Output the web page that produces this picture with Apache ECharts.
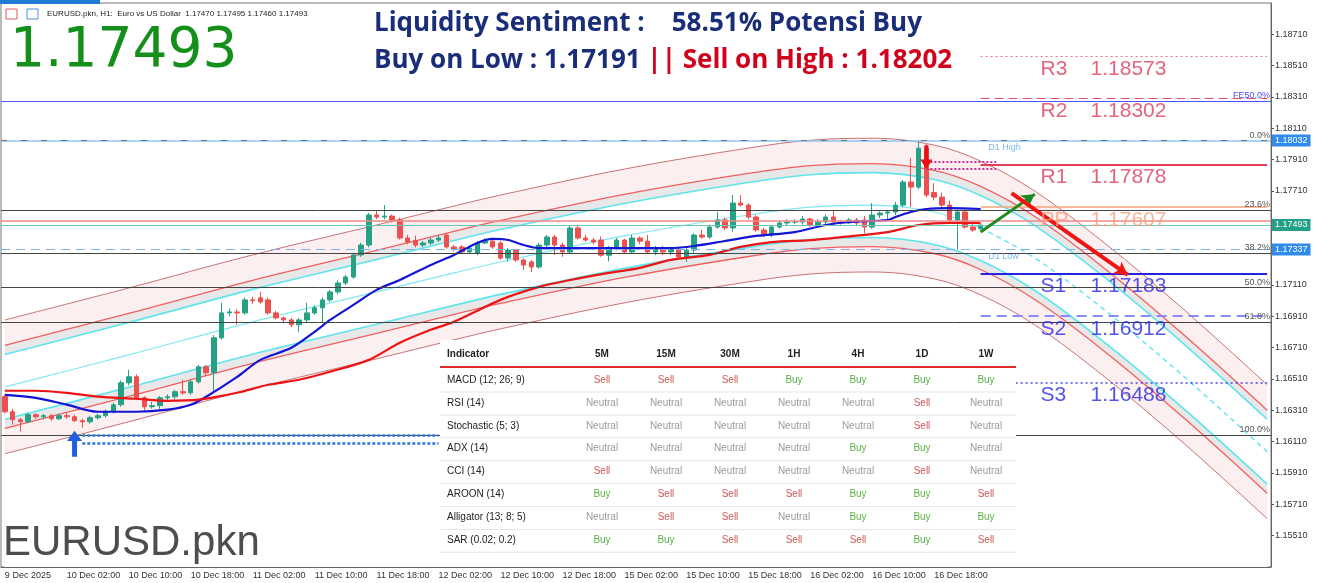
<!DOCTYPE html>
<html>
<head>
<meta charset="utf-8">
<title>EURUSD.pkn H1</title>
<script src="https://cdn.jsdelivr.net/npm/echarts@6/dist/echarts.min.js"></script>
<style>
  html, body { margin: 0; padding: 0; background: #fff; }
  #chart { width: 1319px; height: 583px; }
</style>
</head>
<body>
<div id="chart"></div>
<script>
// ---- axis labels ----
const xTickLabels = ['9 Dec 2025', '10 Dec 02:00', '10 Dec 10:00', '10 Dec 18:00', '11 Dec 02:00', '11 Dec 10:00',
  '11 Dec 18:00', '12 Dec 02:00', '12 Dec 10:00', '12 Dec 18:00', '15 Dec 02:00', '15 Dec 10:00',
  '15 Dec 18:00', '16 Dec 02:00', '16 Dec 10:00', '16 Dec 18:00'];
const yTicks = [1.15510, 1.15710, 1.15910, 1.16110, 1.16310, 1.16510, 1.16710, 1.16910, 1.17110,
  1.17710, 1.17910, 1.18110, 1.18310, 1.18510, 1.18710];
const slotCount = 164; // 127 candles + empty space on the right

// ---- H1 candles ----
const opens = [1.16397,1.16301,1.16250,1.16237,1.16282,1.16269,1.16276,1.16256,1.16276,1.16269,
  1.16244,1.16237,1.16263,1.16276,1.16301,1.16346,1.16486,1.16524,1.16390,1.16333,
  1.16340,1.16390,1.16397,1.16429,1.16422,1.16492,1.16588,1.16550,1.16773,1.16932,
  1.16938,1.16932,1.17015,1.17028,1.17015,1.16932,1.16900,1.16887,1.16856,1.16887,
  1.16932,1.16964,1.17015,1.17066,1.17123,1.17161,1.17302,1.17365,1.17557,1.17544,
  1.17550,1.17525,1.17410,1.17395,1.17365,1.17378,1.17397,1.17429,1.17353,1.17353,
  1.17321,1.17314,1.17378,1.17390,1.17378,1.17282,1.17333,1.17270,1.17257,1.17225,
  1.17365,1.17416,1.17365,1.17321,1.17474,1.17410,1.17397,1.17397,1.17300,1.17346,
  1.17397,1.17321,1.17410,1.17390,1.17321,1.17346,1.17321,1.17340,1.17289,1.17333,
  1.17429,1.17416,1.17480,1.17525,1.17474,1.17633,1.17620,1.17544,1.17461,1.17429,
  1.17480,1.17506,1.17512,1.17512,1.17531,1.17493,1.17512,1.17544,1.17512,1.17506,
  1.17525,1.17525,1.17480,1.17557,1.17569,1.17576,1.17620,1.17767,1.17735,1.17983,
  1.17700,1.17671,1.17620,1.17525,1.17576,1.17480,1.17470];
const closes = [1.16301,1.16250,1.16237,1.16282,1.16269,1.16276,1.16256,1.16276,1.16269,1.16244,
  1.16237,1.16263,1.16276,1.16301,1.16346,1.16486,1.16524,1.16390,1.16333,1.16340,
  1.16390,1.16397,1.16429,1.16422,1.16492,1.16588,1.16550,1.16773,1.16932,1.16938,
  1.16932,1.17015,1.17010,1.17002,1.16932,1.16900,1.16887,1.16856,1.16887,1.16932,
  1.16964,1.17015,1.17066,1.17123,1.17161,1.17302,1.17365,1.17557,1.17544,1.17550,
  1.17525,1.17410,1.17384,1.17365,1.17378,1.17397,1.17410,1.17353,1.17340,1.17321,
  1.17346,1.17378,1.17390,1.17353,1.17282,1.17333,1.17270,1.17238,1.17225,1.17365,
  1.17416,1.17365,1.17321,1.17474,1.17410,1.17397,1.17384,1.17300,1.17346,1.17397,
  1.17321,1.17410,1.17390,1.17321,1.17346,1.17321,1.17340,1.17289,1.17333,1.17429,
  1.17416,1.17480,1.17525,1.17474,1.17633,1.17620,1.17544,1.17461,1.17429,1.17480,
  1.17506,1.17512,1.17512,1.17531,1.17493,1.17512,1.17544,1.17512,1.17506,1.17525,
  1.17506,1.17480,1.17557,1.17569,1.17576,1.17620,1.17767,1.17735,1.17983,1.17684,
  1.17671,1.17620,1.17525,1.17576,1.17480,1.17461,1.17493];
const highs = [1.16410,1.16320,1.16262,1.16295,1.16292,1.16288,1.16286,1.16290,1.16295,1.16282,
  1.16256,1.16276,1.16290,1.16315,1.16360,1.16500,1.16569,1.16540,1.16400,1.16365,
  1.16402,1.16412,1.16441,1.16505,1.16505,1.16600,1.16600,1.16790,1.16996,1.16960,
  1.16955,1.17030,1.17035,1.17066,1.17030,1.16945,1.16910,1.16900,1.16900,1.16996,
  1.16980,1.17030,1.17080,1.17140,1.17175,1.17315,1.17380,1.17570,1.17588,1.17620,
  1.17560,1.17540,1.17430,1.17425,1.17390,1.17410,1.17430,1.17440,1.17365,1.17365,
  1.17360,1.17390,1.17410,1.17400,1.17390,1.17345,1.17340,1.17280,1.17270,1.17380,
  1.17430,1.17430,1.17380,1.17490,1.17495,1.17430,1.17410,1.17420,1.17360,1.17410,
  1.17405,1.17430,1.17420,1.17430,1.17360,1.17360,1.17355,1.17350,1.17345,1.17440,
  1.17461,1.17495,1.17576,1.17540,1.17684,1.17684,1.17633,1.17557,1.17474,1.17493,
  1.17520,1.17530,1.17530,1.17550,1.17540,1.17530,1.17560,1.17588,1.17525,1.17537,
  1.17537,1.17550,1.17633,1.17580,1.17590,1.17640,1.17780,1.17920,1.18032,1.18010,
  1.17760,1.17700,1.17650,1.17590,1.17590,1.17495,1.17495];
const lows = [1.16290,1.16218,1.16174,1.16228,1.16256,1.16252,1.16244,1.16248,1.16256,1.16237,
  1.16200,1.16225,1.16250,1.16263,1.16290,1.16333,1.16470,1.16378,1.16301,1.16320,
  1.16320,1.16365,1.16378,1.16409,1.16409,1.16480,1.16530,1.16429,1.16760,1.16910,
  1.16856,1.16920,1.16990,1.16990,1.16920,1.16890,1.16870,1.16840,1.16811,1.16870,
  1.16920,1.16868,1.17000,1.17050,1.17110,1.17150,1.17290,1.17350,1.17530,1.17530,
  1.17510,1.17400,1.17370,1.17350,1.17350,1.17365,1.17385,1.17340,1.17325,1.17310,
  1.17310,1.17300,1.17370,1.17340,1.17270,1.17260,1.17257,1.17206,1.17193,1.17215,
  1.17350,1.17302,1.17290,1.17310,1.17400,1.17385,1.17370,1.17290,1.17260,1.17330,
  1.17310,1.17310,1.17370,1.17310,1.17300,1.17300,1.17300,1.17275,1.17257,1.17310,
  1.17405,1.17405,1.17470,1.17461,1.17450,1.17610,1.17530,1.17450,1.17416,1.17416,
  1.17470,1.17490,1.17500,1.17495,1.17480,1.17480,1.17495,1.17500,1.17495,1.17500,
  1.17490,1.17440,1.17470,1.17537,1.17525,1.17557,1.17607,1.17607,1.17720,1.17670,
  1.17650,1.17600,1.17510,1.17337,1.17470,1.17450,1.17460];

// ---- moving averages, read at [bar, price] ----
const blueMA = [[0,1.16409],[4,1.16390],[8,1.16346],[12,1.16301],[17,1.16301],[21,1.16314],[24,1.16346],
  [26,1.16397],[30,1.16524],[33,1.16632],[37,1.16709],[40,1.16811],[42,1.16887],[45,1.16983],[48,1.17079],
  [51,1.17142],[55,1.17238],[58,1.17302],[61,1.17378],[63,1.17404],[65,1.17397],[67,1.17365],[69,1.17346],
  [73,1.17346],[78,1.17346],[82,1.17346],[86,1.17346],[89,1.17359],[93,1.17391],[97,1.17423],[102,1.17448],
  [106,1.17493],[109,1.17512],[114,1.17525],[115,1.17544],[117,1.17576],[119,1.17595],[122,1.17601],[126,1.17595]];
const redMA = [[0,1.16435],[4,1.16435],[8,1.16422],[12,1.16397],[17,1.16384],[21,1.16371],[25,1.16378],
  [30,1.16422],[34,1.16473],[38,1.16505],[42,1.16556],[47,1.16632],[51,1.16741],[55,1.16824],[58,1.16875],
  [64,1.17015],[69,1.17098],[73,1.17142],[78,1.17187],[82,1.17219],[86,1.17270],[91,1.17302],[95,1.17353],
  [99,1.17384],[104,1.17397],[108,1.17416],[114,1.17448],[118,1.17493],[122,1.17506],[126,1.17506]];

// ---- curved regression channel, read at these bars ----
const bandIdx = [0, 16, 32, 48, 58, 64, 80, 96, 104, 112, 120, 126, 133, 142, 152, 163];
const chCenter = [1.16460,1.16664,1.16875,1.17066,1.17187,1.17257,1.17423,1.17557,1.17607,1.17620,1.17576,1.17474,1.17282,1.16951,1.16537,1.16046];
const chUpCyan = [1.16667,1.16871,1.17082,1.17273,1.17394,1.17464,1.17630,1.17764,1.17814,1.17827,1.17783,1.17681,1.17489,1.17158,1.16744,1.16253];
const chUpRed  = [1.16725,1.16929,1.17140,1.17331,1.17452,1.17522,1.17688,1.17822,1.17872,1.17885,1.17841,1.17739,1.17547,1.17216,1.16802,1.16311];
const chUpOut  = [1.16887,1.17091,1.17302,1.17493,1.17614,1.17684,1.17850,1.17984,1.18034,1.18047,1.18003,1.17901,1.17709,1.17378,1.16964,1.16473];
const chLoCyan = [1.16253,1.16457,1.16668,1.16859,1.16980,1.17050,1.17216,1.17350,1.17400,1.17413,1.17369,1.17267,1.17075,1.16744,1.16330,1.15839];
const chLoRed  = [1.16195,1.16399,1.16610,1.16801,1.16922,1.16992,1.17158,1.17292,1.17342,1.17355,1.17311,1.17209,1.17017,1.16686,1.16272,1.15781];
const chLoOut  = [1.16033,1.16237,1.16448,1.16639,1.16760,1.16830,1.16996,1.17130,1.17180,1.17193,1.17149,1.17047,1.16855,1.16524,1.16110,1.15619];

// ---- levels ----
const fibLabels = ['0.0%', '23.6%', '38.2%', '50.0%', '61.8%', '100.0%'];
const fibPrices = [1.18032, 1.17589, 1.17315, 1.17093, 1.16871, 1.16154];
const pivotNames = ['R3', 'R2', 'R1', 'PP', 'S1', 'S2', 'S3'];
const pivotValues = [1.18573, 1.18302, 1.17878, 1.17607, 1.17183, 1.16912, 1.16488];
const feLevel = 1.18283;
const d1High = 1.18032;
const d1Low = 1.17337;
const bidPrice = 1.17493;
const askPrice = 1.17518;

// ---- indicator table ----
const tableCols = ['5M', '15M', '30M', '1H', '4H', '1D', '1W'];
const tableRows = ['MACD (12; 26; 9)', 'RSI (14)', 'Stochastic (5; 3)', 'ADX (14)', 'CCI (14)',
  'AROON (14)', 'Alligator (13; 8; 5)', 'SAR (0.02; 0.2)'];
const tableSignals = [
  ['Sell', 'Sell', 'Sell', 'Buy', 'Buy', 'Buy', 'Buy'],
  ['Neutral', 'Neutral', 'Neutral', 'Neutral', 'Neutral', 'Sell', 'Neutral'],
  ['Neutral', 'Neutral', 'Neutral', 'Neutral', 'Neutral', 'Sell', 'Neutral'],
  ['Neutral', 'Neutral', 'Neutral', 'Neutral', 'Buy', 'Buy', 'Neutral'],
  ['Sell', 'Neutral', 'Neutral', 'Neutral', 'Neutral', 'Sell', 'Neutral'],
  ['Buy', 'Sell', 'Sell', 'Sell', 'Buy', 'Buy', 'Sell'],
  ['Neutral', 'Sell', 'Sell', 'Neutral', 'Buy', 'Buy', 'Buy'],
  ['Buy', 'Buy', 'Sell', 'Sell', 'Sell', 'Buy', 'Sell']
];

const lastBar = opens.length - 1;
const lastSlot = slotCount - 1;
const FONT = '"Liberation Sans", Arial, sans-serif';

const chart = echarts.init(document.getElementById('chart'));

function bandSeries(vals, color, width, fill, from, to, dashed) {
  const pts = [];
  bandIdx.forEach((x, k) => { if (x >= from && x <= to) pts.push([x, vals[k]]); });
  return {
    type: 'line', silent: true, z: 1, symbol: 'none', smooth: 0.35,
    data: pts,
    lineStyle: { color: color, width: width, type: dashed ? [5, 4] : 'solid' },
    areaStyle: fill ? { color: fill, origin: 'start', opacity: 1 } : null
  };
}

function fullLine(v, color, width, type, label) {
  return { yAxis: v, lineStyle: { color: color, width: width, type: type }, label: label || { show: false } };
}
function segLine(from, to, v, color, width, type) {
  return [{ coord: [from, v], lineStyle: { color: color, width: width, type: type }, label: { show: false } },
    { coord: [to, v] }];
}
function priceTag(text, bg) {
  return { show: true, position: 'end', formatter: text, backgroundColor: bg, color: '#fff',
    fontSize: 9, fontFamily: FONT, padding: [2, 3, 1, 3], distance: 1 };
}
function fibTag(text, color) {
  return { show: true, position: 'insideEndTop', formatter: text, color: color || '#555',
    fontSize: 9, fontFamily: FONT, distance: 1 };
}

const pivotColors = ['#dd3c5c', '#dd3c5c', '#dd3c5c', '#f6a37c', '#2828e4', '#2828e4', '#2828e4'];
const pivotLineColors = ['#f0708a', '#e64a64', '#e0405c', '#f6a37c', '#2323e0', '#8a8af8', '#4545f0'];
const pivotStyles = [[2, 3], [9, 5], 'solid', 'solid', 'solid', [10, 6], [2, 3]];
const pivotWidths = [1, 1.2, 2, 1.5, 2, 2, 1.5];

const levelLines = [
  fullLine(feLevel, '#5252ff', 1.2, 'solid', fibTag('FE50.0%', '#4a4aff')),
  fullLine(d1High, '#8cc4f8', 1.5, 'solid', priceTag('1.18032', '#2f8cec')),
  fullLine(fibPrices[0], '#777', 1, [6, 14], fibTag(fibLabels[0])),
  fullLine(fibPrices[1], '#444', 1, 'solid', fibTag(fibLabels[1])),
  fullLine(askPrice, '#f08a8a', 1.5, 'solid'),
  fullLine(bidPrice, '#6cc7b5', 1.2, 'solid', priceTag('1.17493', '#23a087')),
  fullLine(d1Low, '#7bb4f0', 1.2, [9, 6], priceTag('1.17337', '#2f8cec')),
  fullLine(fibPrices[2], '#444', 1, 'solid', fibTag(fibLabels[2])),
  fullLine(fibPrices[3], '#444', 1, 'solid', fibTag(fibLabels[3])),
  fullLine(fibPrices[4], '#444', 1, 'solid', fibTag(fibLabels[4])),
  fullLine(fibPrices[5], '#444', 1, 'solid', fibTag(fibLabels[5]))
];
pivotValues.forEach((v, k) => levelLines.push(segLine(lastBar, lastSlot, v, pivotLineColors[k], pivotWidths[k], pivotStyles[k])));
// wave markers
levelLines.push(segLine(119, 128, 1.17894, '#c0309a', 2, [2, 2]));
levelLines.push(segLine(119, 128, 1.17850, '#c0309a', 2, [2, 2]));
levelLines.push(segLine(10, 56, 1.16148, '#2a7ae0', 2.5, [3, 2]));
levelLines.push(segLine(10, 56, 1.16097, '#2a7ae0', 2.5, [3, 2]));

// table graphic
const colX = [602, 666, 730, 794, 858, 922, 986];
const sigColor = { Sell: '#d05656', Buy: '#5cb548', Neutral: '#9b9b9b' };
const TZ = 60;
function txt(x, y, text, fill, font, align) {
  return { type: 'text', z: TZ, style: { x: x, y: y, text: text, fill: fill, font: font,
    align: align, verticalAlign: 'middle', textAlign: align, textVerticalAlign: 'middle' } };
}
const tableEls = [
  { type: 'rect', z: TZ - 1, shape: { x: 440, y: 340, width: 576, height: 213 }, style: { fill: '#fff' } },
  txt(447, 354, 'Indicator', '#222', 'bold 10px ' + FONT, 'left'),
  { type: 'rect', z: TZ, shape: { x: 440, y: 366, width: 576, height: 2 }, style: { fill: '#dd2b2b' } }
];
tableCols.forEach((c, j) => tableEls.push(txt(colX[j], 354, c, '#222', 'bold 10px ' + FONT, 'center')));
tableRows.forEach((r, k) => {
  const y = 380 + k * 22.9;
  tableEls.push(txt(447, y, r, '#222', '10px ' + FONT, 'left'));
  tableSignals[k].forEach((s, j) => tableEls.push(txt(colX[j], y, s, sigColor[s], '10px ' + FONT, 'center')));
  tableEls.push({ type: 'rect', z: TZ, shape: { x: 440, y: y + 11.5, width: 576, height: 1 }, style: { fill: '#e6e6e6' } });
});

const upArrow = 'path://M6,0 L12,8 L8,8 L8,20 L4,20 L4,8 L0,8 Z';
const downArrow = 'path://M4,0 L8,0 L8,12 L12,12 L6,20 L0,12 L4,12 Z';

const option = {
  animation: false,
  backgroundColor: '#fff',
  grid: { left: 1, right: 48, top: 3, bottom: 16, show: true, borderColor: '#777', borderWidth: 1 },
  xAxis: {
    type: 'category',
    data: Array.from({ length: slotCount }, (_, i) => String(i)),
    boundaryGap: true,
    axisLine: { lineStyle: { color: '#666' } },
    axisTick: { alignWithLabel: true, length: 3, lineStyle: { color: '#555' },
      interval: (i) => i % 8 === 0 && i <= 120 },
    axisLabel: { interval: 7, align: 'left', margin: 4, fontSize: 9, fontFamily: FONT, color: '#333',
      formatter: (v, i) => xTickLabels[i / 8] || '' },
    splitLine: { show: false }
  },
  yAxis: {
    type: 'value', position: 'right', min: 1.15310, max: 1.18910, scale: true,
    axisLine: { show: true, lineStyle: { color: '#666' } },
    axisTick: { show: true, length: 3, customValues: yTicks, lineStyle: { color: '#555' } },
    axisLabel: { customValues: yTicks, formatter: (v) => v.toFixed(5), fontSize: 9, fontFamily: FONT,
      color: '#333', margin: 4 },
    splitLine: { show: false }
  },
  series: [
    bandSeries(chUpOut, '#c97272', 1, '#fcefef', 0, lastSlot),
    bandSeries(chUpRed, '#f06060', 1.3, '#e8e8e8', 0, lastSlot),
    bandSeries(chUpCyan, '#5fe4ee', 1.6, '#ffffff', 0, lastSlot),
    bandSeries(chLoCyan, '#5fe4ee', 1.6, '#e8e8e8', 0, lastSlot),
    bandSeries(chLoRed, '#f06060', 1.3, '#fcefef', 0, lastSlot),
    bandSeries(chLoOut, '#c97272', 1, '#ffffff', 0, lastSlot),
    bandSeries(chCenter, '#7fe8f0', 1.2, null, 0, lastBar),
    bandSeries(chCenter, '#5fe4ee', 1.4, null, lastBar, lastSlot, true),
    {
      type: 'line', name: 'levels', data: [], z: 2, silent: true, clip: false,
      markLine: { silent: true, symbol: 'none', precision: 5, animation: false, data: levelLines }
    },
    {
      type: 'candlestick', name: 'EURUSD', z: 3, barWidth: 5,
      data: opens.map((o, i) => [o, closes[i], lows[i], highs[i]]),
      itemStyle: { color: '#26a186', color0: '#ee4f4f', borderColor: '#26a186', borderColor0: '#ee4f4f', borderWidth: 1 }
    },
    { type: 'line', name: 'MA fast', z: 4, symbol: 'none', smooth: 0.3, data: blueMA,
      lineStyle: { color: '#1414d4', width: 2.2 } },
    { type: 'line', name: 'MA slow', z: 4, symbol: 'none', smooth: 0.3, data: redMA,
      lineStyle: { color: '#ec1414', width: 2.2 } },
    {
      type: 'line', name: 'arrows', data: [], z: 5, silent: true, clip: false,
      markLine: {
        silent: true, symbol: ['none', 'arrow'], symbolSize: [11, 13], precision: 5, label: { show: false },
        data: [
          [{ coord: [126, 1.17448], lineStyle: { color: '#1f8a1f', width: 3, type: 'solid' } }, { coord: [133, 1.17690] }],
          [{ coord: [130, 1.17697], lineStyle: { color: '#f01414', width: 4, type: 'solid' } }, { coord: [145, 1.17174] }]
        ]
      },
      markPoint: {
        silent: true, label: { show: false },
        data: [
          { coord: [9, 1.16097], symbol: upArrow, symbolSize: [15, 26], itemStyle: { color: '#1f5fe0' } },
          { coord: [119, 1.17926], symbol: downArrow, symbolSize: [12, 24], itemStyle: { color: '#e81010' } }
        ]
      }
    },
    {
      type: 'scatter', name: 'pivot labels', z: 6, silent: true, symbolSize: 0,
      data: pivotValues.map((v, k) => ({ value: [134, v], label: { color: pivotColors[k] } })),
      label: {
        show: true, position: 'right', distance: 0, offset: [-2, 13], fontSize: 21, fontFamily: FONT,
        formatter: (p) => '{n|' + pivotNames[p.dataIndex] + '}{v|' + pivotValues[p.dataIndex].toFixed(5) + '}',
        rich: { n: { width: 50, fontSize: 21, fontFamily: FONT }, v: { fontSize: 21, fontFamily: FONT } }
      }
    },
    {
      type: 'scatter', name: 'd1 labels', z: 6, silent: true, symbolSize: 0,
      data: [{ value: [127, d1High], name: 'D1 High' }, { value: [127, d1Low], name: 'D1 Low' }],
      label: { show: true, position: 'right', distance: 0, offset: [0, 7], formatter: '{b}',
        color: '#5aa5ef', fontSize: 9, fontFamily: FONT }
    }
  ],
  graphic: {
    elements: [
      { type: 'rect', z: 50, shape: { x: 0, y: 0, width: 100, height: 4 }, style: { fill: '#1f7bd6' } },
      { type: 'rect', z: 50, shape: { x: 6, y: 9, width: 11, height: 10 }, style: { fill: '#fff', stroke: '#e05a5a', lineWidth: 1 } },
      { type: 'rect', z: 50, shape: { x: 27, y: 9, width: 11, height: 10 }, style: { fill: '#fff', stroke: '#4a8fe0', lineWidth: 1 } },
      txt(47, 14, 'EURUSD.pkn, H1:  Euro vs US Dollar  1.17470 1.17495 1.17460 1.17493', '#222', '8px ' + FONT, 'left'),
      txt(10, 52, '1.17493', '#14901a', '55px "DejaVu Sans", sans-serif', 'left'),
      txt(374, 24, 'Liquidity Sentiment :    58.51% Potensi Buy', '#1a2d78', 'bold 26px "Open Sans", sans-serif', 'left'),
      { type: 'text', z: 50, style: { x: 374, y: 61, text: '{a|Buy on Low : 1.17191 }{b||| Sell on High : 1.18202}',
        rich: { a: { fill: '#1a2d78', color: '#1a2d78', fontSize: 26, fontWeight: 'bold', fontFamily: '"Open Sans"' },
                b: { fill: '#d0021b', color: '#d0021b', fontSize: 26, fontWeight: 'bold', fontFamily: '"Open Sans"' } },
        align: 'left', verticalAlign: 'middle', textAlign: 'left', textVerticalAlign: 'middle' } },
      txt(3, 543, 'EURUSD.pkn', '#4d4d4d', '42px ' + FONT, 'left'),
      { type: 'group', children: tableEls }
    ]
  }
};

chart.setOption(option);
window.addEventListener('resize', () => chart.resize());
</script>
</body>
</html>
